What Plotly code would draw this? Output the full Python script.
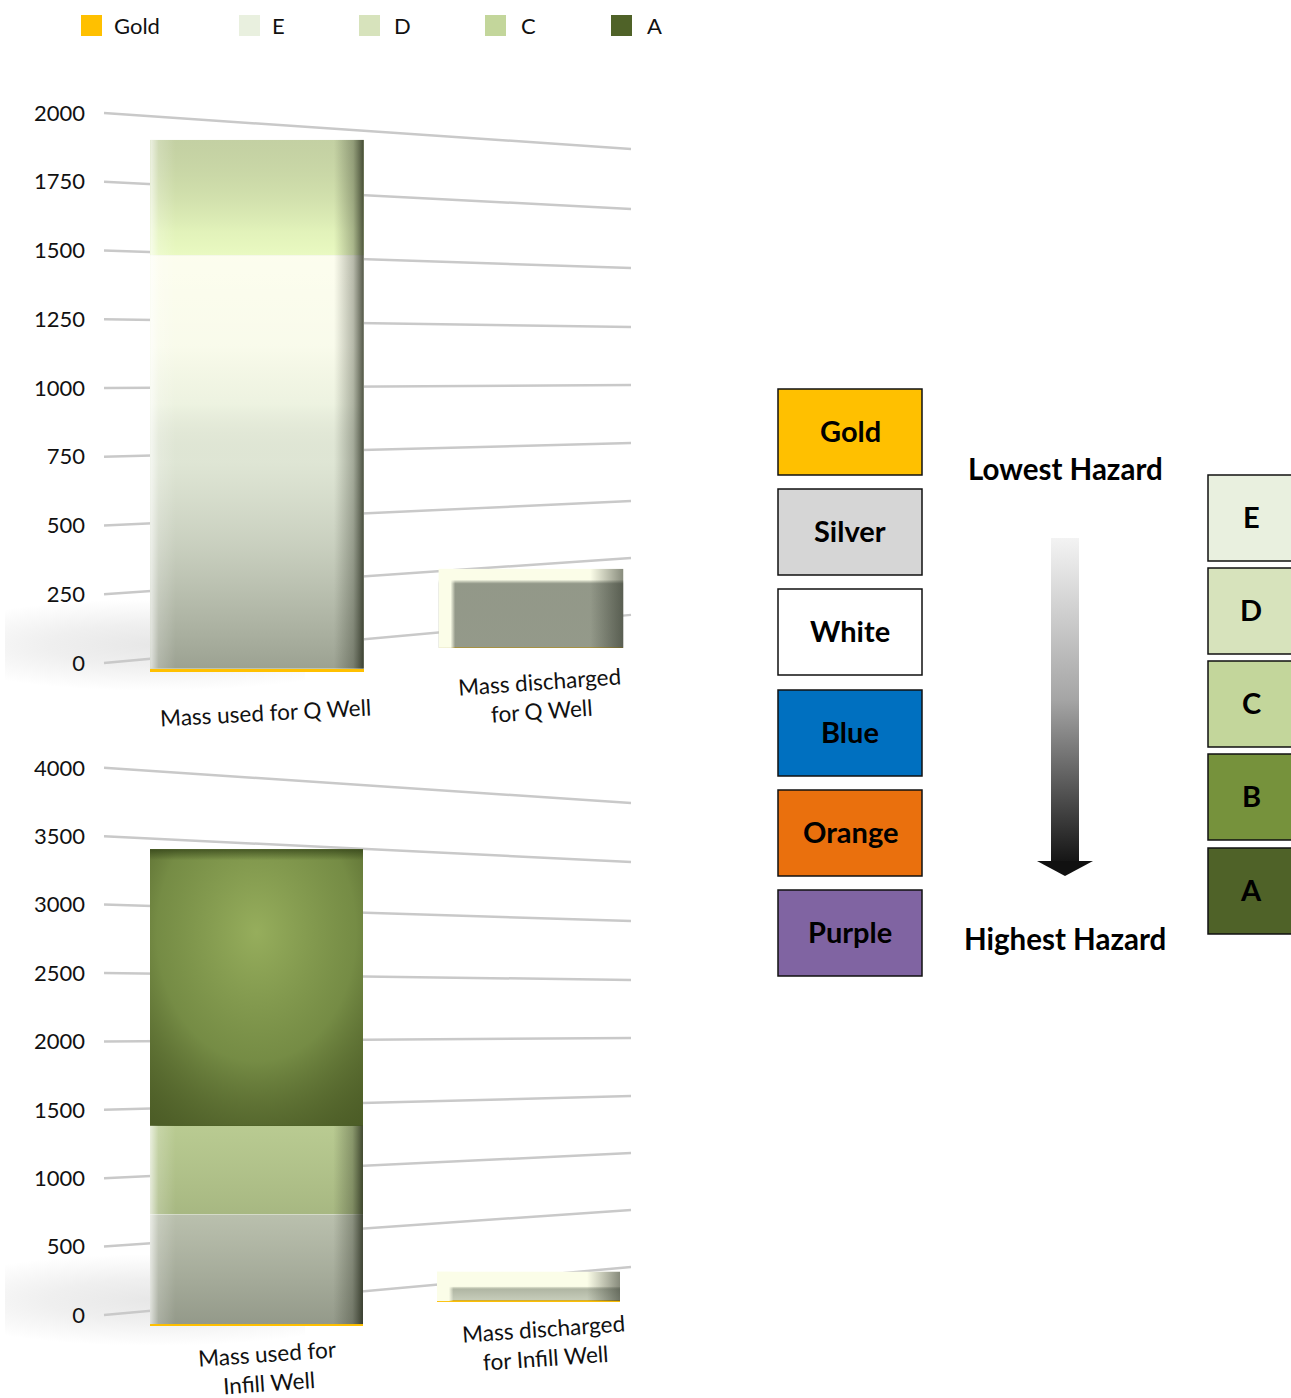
import base64
import plotly.graph_objects as go

W, H = 1291, 1398

# ---------- data ----------
categories_q = ["Mass used for Q Well", "Mass discharged<br>for Q Well"]
categories_i = ["Mass used for<br>Infill Well", "Mass discharged<br>for Infill Well"]
series_names = ["Gold", "E", "D", "C", "A"]
series_colors = ["#FFC000", "#E9F0DF", "#D7E3BC", "#C3D69B", "#4F6228"]

q_gold = [11, 5]
q_e = [1504, 283]
q_d = [420, 0]
q_c = [0, 0]
q_a = [0, 0]

i_gold = [8, 8]
i_e = [802, 210]
i_d = [0, 0]
i_c = [650, 0]
i_a = [2020, 0]

ticks_q = [0, 250, 500, 750, 1000, 1250, 1500, 1750, 2000]
ticks_i = [0, 500, 1000, 1500, 2000, 2500, 3000, 3500, 4000]
# where each receding gridline arrives at the back of the chart, in axis units
grid_end_q = [175, 382, 589, 800, 1011, 1222, 1436, 1651, 1869]
grid_end_i = [351, 768, 1184, 1601, 2025, 2449, 2880, 3311, 3743]

tile_labels = ["Gold", "Silver", "White", "Blue", "Orange", "Purple"]
tile_colors = ["#FFC000", "#D6D6D6", "#FFFFFF", "#0070C0", "#EA700D", "#8064A2"]
hazard_labels = ["E", "D", "C", "B", "A"]
hazard_colors = ["#E9F0DF", "#D7E3BC", "#C3D69B", "#76923C", "#4F6228"]

FONT = "Lato, 'Open Sans', sans-serif"

# ---------- layout helpers ----------
fx = lambda p: p / W
fy = lambda p: 1 - p / H


class Panel:
    def __init__(self, xa, ya, x0px, xscale, y0px, yscale, top, bot):
        self.xa, self.ya = xa, ya
        self.x0px, self.xscale, self.y0px, self.yscale = x0px, xscale, y0px, yscale
        self.left, self.right = 92, 660
        self.top, self.bot = top, bot

    def dx(self, p):
        return (p - self.x0px) / self.xscale

    def dy(self, p):
        return (self.y0px - p) / self.yscale


pq = Panel("x", "y", 257, 274, 663, 0.275, 100, 700)
pi = Panel("x2", "y2", 256.5, 272, 1315, 0.1368, 750, 1350)

shapes = []
annotations = []
images = []


def stop_tags(stops):
    return "".join(
        f'<stop offset="{t:.3f}" stop-color="rgb({c[0]},{c[1]},{c[2]})" stop-opacity="{c[3]}"/>' for t, c in stops)


def to_uri(defs, rects, w=200, h=200):
    svg = (f'<svg xmlns="http://www.w3.org/2000/svg" width="{w}" height="{h}" viewBox="0 0 {w} {h}" '
           f'preserveAspectRatio="none"><defs>{defs}</defs>{rects}</svg>')
    return "data:image/svg+xml;base64," + base64.b64encode(svg.encode()).decode()


def gradient_uri(layers):
    """layers: list of (stops, kind, centre, radius), painted in order."""
    defs, rects = "", ""
    for i, (stops, kind, centre, radius) in enumerate(layers):
        st = stop_tags(stops)
        if kind == "r":
            defs += f'<radialGradient id="g{i}" cx="{centre[0]}" cy="{centre[1]}" r="{radius}">{st}</radialGradient>'
        else:
            end = 'x2="0" y2="1"' if kind == "v" else 'x2="1" y2="0"'
            defs += f'<linearGradient id="g{i}" x1="0" y1="0" {end}>{st}</linearGradient>'
        rects += f'<rect width="200" height="200" fill="url(#g{i})"/>'
    return to_uri(defs, rects)


def L(stops, kind="v", centre=(.5, .5), radius=.7):
    return (stops, kind, centre, radius)


def shade(p, x0, x1, y0, y1, *layers):
    """Soft lighting over a bar segment, placed in the axis units of its panel."""
    images.append(dict(source=gradient_uri(layers), xref=p.xa, yref=p.ya, x=x0, y=y1,
                       sizex=x1 - x0, sizey=y1 - y0, sizing="stretch", xanchor="left", yanchor="top",
                       layer="above", opacity=1))


def paper_image(uri, px0, px1, py0, py1, layer="above"):
    images.append(dict(source=uri, xref="paper", yref="paper", x=fx(px0), y=fy(py0),
                       sizex=(px1 - px0) / W, sizey=(py1 - py0) / H, sizing="stretch", xanchor="left",
                       yanchor="top", layer=layer))


def floor_shadow_uri():
    st = stop_tags([(0, (70, 70, 70, .13)), (.45, (70, 70, 70, .085)), (.8, (70, 70, 70, .03)), (1, (70, 70, 70, 0))])
    defs = (f'<radialGradient id="s" gradientUnits="userSpaceOnUse" cx="0" cy="0" r="1" '
            f'gradientTransform="translate(150,48) scale(240,46)">{st}</radialGradient>')
    return to_uri(defs, '<rect width="300" height="96" fill="url(#s)"/>', 300, 96)


fig = go.Figure()


def add_panel(p, values, bases, widths, ticks, grid_end, labels, lab_pos):
    x = [0, 1]
    running = list(bases)
    for name, color, vals in zip(series_names, series_colors, values):
        fig.add_trace(go.Bar(x=x, y=vals, base=list(running), width=widths, name=name,
                             marker=dict(color=color, line=dict(width=0)),
                             xaxis=p.xa, yaxis=p.ya, showlegend=False))
        running = [r + v for r, v in zip(running, vals)]
    for v, e in zip(ticks, grid_end):
        shapes.append(dict(type="line", xref=p.xa, yref=p.ya, x0=p.dx(104), x1=p.dx(631), y0=v, y1=e,
                           line=dict(color="#C9C9C9", width=2.5), layer="below"))
    for text, (px, py, ang) in zip(labels, lab_pos):
        annotations.append(dict(text=text, xref="paper", yref="paper", x=fx(px), y=fy(py), showarrow=False,
                                textangle=ang, xanchor="center", yanchor="middle",
                                font=dict(family=FONT, size=22.5, color="#111111")))


bases_q = [-32, 55]
bases_i = [-75, 100]
widths_q = [0.78, 0.675]
widths_i = [0.783, 0.673]

add_panel(pq, [q_gold, q_e, q_d, q_c, q_a], bases_q, widths_q, ticks_q, grid_end_q, categories_q,
          [(265, 712, -3), (540, 696, -4)])
add_panel(pi, [i_gold, i_e, i_d, i_c, i_a], bases_i, widths_i, ticks_i, grid_end_i, categories_i,
          [(268, 1368, -4), (544, 1343, -4)])

paper_image(floor_shadow_uri(), 5, 305, 597, 693, "below")
paper_image(floor_shadow_uri(), 5, 305, 1252, 1348, "below")

# ---------- lighting on the bars ----------
CREAM = (251, 253, 232, 1)
edge = [(0, (255, 255, 255, .7)), (.04, (255, 255, 255, .2)), (.12, (255, 255, 255, 0)), (.86, (40, 45, 30, 0)),
        (.95, (40, 45, 30, .32)), (1, (25, 30, 15, .75))]
edge_dark = [(0, (30, 40, 10, .6)), (.22, (30, 40, 10, 0)), (.78, (30, 40, 10, 0)), (1, (25, 30, 10, .8))]
edge_small = [(0, CREAM), (.065, CREAM), (.09, (251, 253, 232, 0)), (.82, (40, 45, 35, 0)), (1, (40, 45, 35, .55))]


def seg(base, *parts):
    out, r = [], base
    for v in parts:
        out.append((r, r + v))
        r += v
    return out


# Q well, bar 1
xl, xr = -widths_q[0] / 2, widths_q[0] / 2
s_gold, s_e, s_d = seg(bases_q[0], q_gold[0], q_e[0], q_d[0])
shade(pq, xl, xr, *s_e, L([(0, (255, 255, 240, .9)), (.22, (255, 255, 240, .72)), (.36, (250, 250, 230, .25)),
                           (.5, (130, 135, 118, .1)), (.7, (115, 120, 105, .27)), (.85, (105, 110, 95, .42)),
                           (1, (95, 100, 85, .56))]))
shade(pq, xl, xr, *s_d, L([(0, (150, 165, 105, .3)), (.8, (235, 255, 185, .55)), (1, (238, 255, 195, .8))]))
shade(pq, xl, xr, s_e[0], s_d[1], L(edge, "h"))

# Q well, bar 2
xl, xr = 1 - widths_q[1] / 2, 1 + widths_q[1] / 2
y0, y1 = bases_q[1], bases_q[1] + q_gold[1] + q_e[1]
shade(pq, xl, xr, y0, y1,
      L([(0, CREAM), (.14, CREAM), (.19, (125, 130, 115, .8)), (1, (115, 120, 105, .72))]),
      L(edge_small, "h"))

# Infill well, bar 1
xl, xr = -widths_i[0] / 2, widths_i[0] / 2
s_gold, s_e, s_c, s_a = seg(bases_i[0], i_gold[0], i_e[0], i_c[0], i_a[0])
shade(pi, xl, xr, *s_e, L([(0, (120, 125, 105, .42)), (1, (95, 100, 85, .62))]))
shade(pi, xl, xr, *s_c, L([(0, (110, 120, 75, .12)), (1, (95, 105, 65, .28))]))
shade(pi, xl, xr, *s_a,
      L([(0, (158, 182, 98, .9)), (.55, (132, 156, 80, .72)), (1, (70, 82, 35, .35))], "r", (.5, .3), .85),
      L([(0, (45, 60, 20, .7)), (.04, (45, 60, 20, 0)), (1, (45, 60, 20, 0))]))
shade(pi, xl, xr, s_e[0], s_c[1], L(edge, "h"))
shade(pi, xl, xr, *s_a, L(edge_dark, "h"))

# Infill well, bar 2
xl, xr = 1 - widths_i[1] / 2, 1 + widths_i[1] / 2
y0, y1 = bases_i[1], bases_i[1] + i_gold[1] + i_e[1]
shade(pi, xl, xr, y0, y1,
      L([(0, CREAM), (.5, CREAM), (.6, (130, 135, 115, .55)), (1, (140, 145, 125, .35))]),
      L(edge_small, "h"))

# ---------- top key ----------
key_x = [81, 239, 359, 485, 611]
key_text_x = [111.5, 269.5, 392.5, 518.5, 644.5]
for name, color, kx, tx in zip(series_names, series_colors, key_x, key_text_x):
    shapes.append(dict(type="rect", xref="paper", yref="paper", x0=fx(kx), x1=fx(kx + 21), y0=fy(36), y1=fy(15),
                       fillcolor=color, line=dict(width=0)))
    annotations.append(dict(text=name, xref="paper", yref="paper", x=fx(tx), y=fy(26), showarrow=False,
                            xanchor="left", yanchor="middle", font=dict(family=FONT, size=22, color="#111111")))

# ---------- right-hand tiles ----------
tile_tops = [389, 489, 589, 690, 790, 890]
for label, color, top in zip(tile_labels, tile_colors, tile_tops):
    shapes.append(dict(type="rect", xref="paper", yref="paper", x0=fx(778), x1=fx(922), y0=fy(top + 86), y1=fy(top),
                       fillcolor=color, line=dict(color="#111111", width=1.5)))
    annotations.append(dict(text=f"<b>{label}</b>", xref="paper", yref="paper", x=fx(850), y=fy(top + 41),
                            showarrow=False, xanchor="center", yanchor="middle",
                            font=dict(family=FONT, size=29, color="#000000")))

haz_tops = [475, 568, 661, 754, 848]
for label, color, top in zip(hazard_labels, hazard_colors, haz_tops):
    shapes.append(dict(type="rect", xref="paper", yref="paper", x0=fx(1208), x1=fx(1300), y0=fy(top + 86), y1=fy(top),
                       fillcolor=color, line=dict(color="#111111", width=1.5)))
    annotations.append(dict(text=f"<b>{label}</b>", xref="paper", yref="paper", x=fx(1251), y=fy(top + 41),
                            showarrow=False, xanchor="center", yanchor="middle",
                            font=dict(family=FONT, size=29, color="#000000")))

for text, py in [("Lowest Hazard", 468), ("Highest Hazard", 938)]:
    annotations.append(dict(text=f"<b>{text}</b>", xref="paper", yref="paper", x=fx(1065), y=fy(py), showarrow=False,
                            xanchor="center", yanchor="middle", font=dict(family=FONT, size=29.5, color="#000000")))

# hazard arrow
paper_image(gradient_uri([L([(0, (243, 243, 243, 1)), (.5, (165, 165, 165, 1)), (1, (22, 22, 22, 1))])]),
            1051, 1079, 538, 861)
shapes.append(dict(type="path", xref="paper", yref="paper",
                   path=f"M {fx(1037)} {fy(861)} L {fx(1093)} {fy(861)} L {fx(1065)} {fy(876)} Z",
                   fillcolor="#111111", line=dict(width=0)))


def xaxis(p):
    return dict(domain=[fx(p.left), fx(p.right)], range=[p.dx(p.left), p.dx(p.right)], showgrid=False,
                zeroline=False, showline=False, tickvals=[0, 1], showticklabels=False, ticks="", fixedrange=True)


def yaxis(p, ticks, anchor):
    return dict(domain=[fy(p.bot), fy(p.top)], range=[p.dy(p.bot), p.dy(p.top)], showgrid=False, zeroline=False,
                showline=False, tickvals=ticks, ticktext=[str(t) for t in ticks], ticks="", anchor=anchor,
                ticklabelstandoff=6, tickfont=dict(family=FONT, size=22, color="#111111"), fixedrange=True)


fig.update_layout(
    width=W, height=H, margin=dict(l=0, r=0, t=0, b=0), autosize=False,
    paper_bgcolor="white", plot_bgcolor="rgba(0,0,0,0)", barmode="overlay", bargap=0,
    xaxis=xaxis(pq), yaxis=yaxis(pq, ticks_q, "x"),
    xaxis2=xaxis(pi), yaxis2=yaxis(pi, ticks_i, "x2"),
    shapes=shapes, annotations=annotations, images=images, showlegend=False,
    font=dict(family=FONT),
)

fig.write_html("out.html", config={"displayModeBar": False},
               post_script="document.body.style.margin='0';document.body.style.overflow='hidden';")
